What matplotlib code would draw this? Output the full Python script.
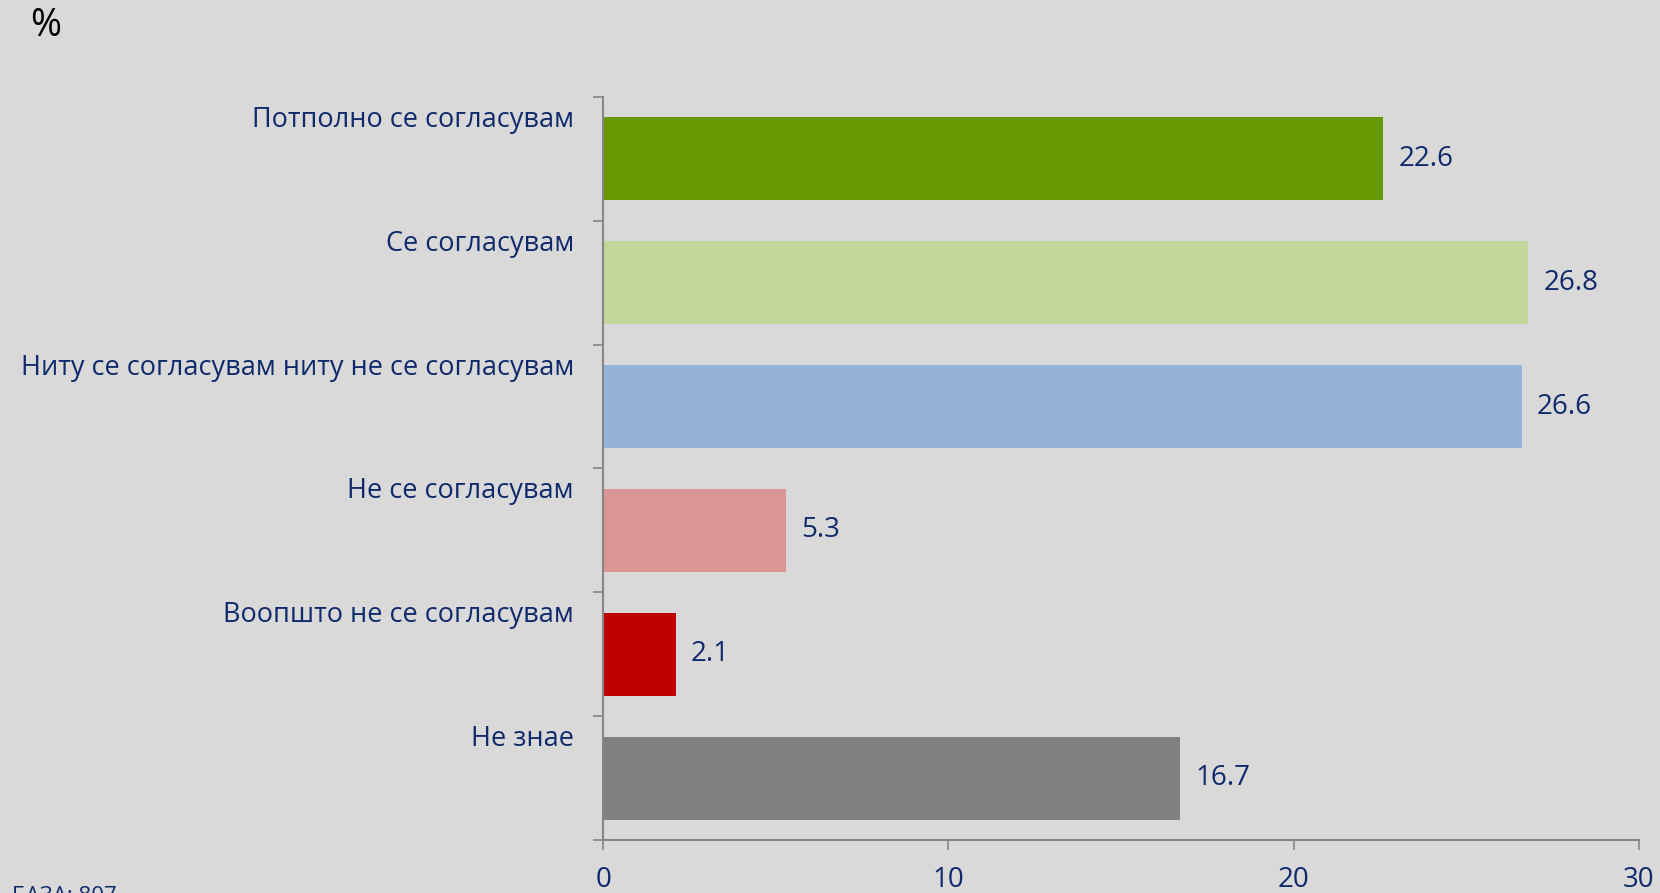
import matplotlib
matplotlib.use('Agg')
import matplotlib.pyplot as plt
import numpy as np

# answers, top to bottom
categories = ['Потполно се согласувам', 'Се согласувам',
              'Ниту се согласувам ниту не се согласувам', 'Не се согласувам',
              'Воопшто не се согласувам', 'Не знае']
values = [22.6, 26.8, 26.6, 5.3, 2.1, 16.7]
colors = ['#669900', '#C4D79B', '#95B3D7', '#DA9694', '#C00000', '#808080']
xticks = [0, 10, 20, 30]

navy = '#0F2A6B'
bg = '#D9D9D9'
plt.rcParams['font.family'] = ['Open Sans', 'DejaVu Sans']

fig = plt.figure(figsize=(16.6, 8.93), dpi=100, facecolor=bg)
ax = fig.add_axes([0.3633, 0.0594, 0.624, 0.832])
ax.set_facecolor(bg)

y = np.arange(len(categories))
ax.barh(y, values, height=0.67, color=colors)
ax.set_ylim(len(categories) - 0.5, -0.5)
ax.set_xlim(0, 30)

for sp in ['top', 'right']:
    ax.spines[sp].set_visible(False)
for sp in ['left', 'bottom']:
    ax.spines[sp].set_color('#868686')
    ax.spines[sp].set_linewidth(1.5)

# ticks at category boundaries on the y axis
ax.set_yticks(np.arange(len(categories) + 1) - 0.5)
ax.set_yticklabels([])
ax.tick_params(axis='y', length=7, width=1.2, color='#868686')
ax.set_xticks(xticks)
ax.set_xticklabels([str(t) for t in xticks])
ax.tick_params(axis='x', length=7, width=1.2, color='#868686',
               labelsize=20, labelcolor=navy, pad=12)

for i, (cat, v) in enumerate(zip(categories, values)):
    ax.annotate(cat, xy=(0, i), xytext=(-21, 28), textcoords='offset points',
                ha='right', va='center', fontsize=19.5, color=navy,
                annotation_clip=False)
    ax.annotate(f'{v:.1f}', xy=(v, i), xytext=(11, 0), textcoords='offset points',
                ha='left', va='center', fontsize=20, color=navy)

fig.text(0.018, 0.971, '%', fontsize=27, color='black', ha='left', va='center')
fig.text(0.007, 0.008, 'БАЗА: 807', fontsize=16, color=navy, ha='left', va='top')

fig.savefig('out.png', dpi=100, facecolor=bg)
